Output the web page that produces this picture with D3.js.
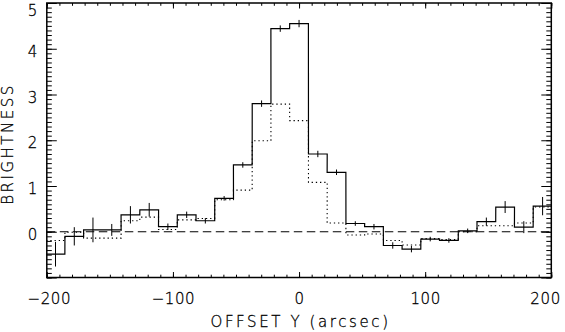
<!DOCTYPE html>
<html>
<head>
<meta charset="utf-8">
<script src="https://cdn.jsdelivr.net/npm/d3@7"></script>
<style>
  body { margin: 0; background: #fff; }
  text { font-family: "DejaVu Sans", sans-serif; font-weight: 200; fill: #000; stroke: #000; stroke-width: 0.3; }
</style>
</head>
<body>
<div class="container"></div>
<script>
////////////////////////////////////////////////////////////////
// DATA
////////////////////////////////////////////////////////////////
var binWidth = 14.85; // arcsec per bin
var offsets = [-193.1,-178.2,-163.4,-148.5,-133.7,-118.8,-104.0,-89.1,-74.3,-59.4,-44.6,-29.7,-14.9,
               0,14.9,29.7,44.6,59.4,74.3,89.1,104.0,118.8,133.7,148.5,163.4,178.2,193.1];
var brightness = [-0.49,-0.10,0.04,0.04,0.37,0.48,0.11,0.37,0.24,0.73,1.46,2.80,4.44,
                  4.55,1.70,1.30,0.18,0.11,-0.30,-0.38,-0.16,-0.19,0.02,0.22,0.54,0.10,0.56];
var errors = [0.27,0.20,0.27,0.13,0.19,0.15,0.07,0.07,0.06,0.05,0.06,0.07,0.07,
              0.08,0.07,0.06,0.05,0.06,0.07,0.07,0.05,0.05,0.05,0.09,0.13,0.13,0.20];
var model = [-0.19,-0.01,-0.14,-0.14,0.24,0.32,0.05,0.26,0.29,0.70,0.91,1.99,2.79,
             2.43,1.08,0.19,-0.07,-0.05,-0.19,-0.29,-0.15,-0.17,0.00,0.13,0.13,0.19,0.54];
var xTicks = [-200,-100,0,100,200];
var yTicks = [-1,0,1,2,3,4,5];
var yLabels = ["", "0", "1", "2", "3", "4", "5"];

////////////////////////////////////////////////////////////////
// STAGE
////////////////////////////////////////////////////////////////
var W = 565, H = 332;
var svg = d3.select(".container").append("svg").attr("width", W).attr("height", H);

var x = d3.scaleLinear().domain([-200, 200]).range([46.8, 551.3]);
var y = d3.scaleLinear().domain([-1, 5]).range([277.5, 3]);

svg.append("clipPath").attr("id", "clip")
   .append("rect")
   .attr("x", x(-200)).attr("y", y(5))
   .attr("width", x(200) - x(-200)).attr("height", y(-1) - y(5));

////////////////////////////////////////////////////////////////
// AXES (ticks inward on all four sides)
////////////////////////////////////////////////////////////////
var xMinor = d3.range(-200, 201, 10);
var yMinor = d3.range(-10, 51, 1).map(function(d) { return d / 10; });

function drawAxis(axis, tx, ty) {
  var g = svg.append("g").attr("transform", "translate(" + tx + "," + ty + ")").call(axis);
  g.select(".domain").remove();
  g.selectAll("line").attr("stroke", "#000").attr("stroke-width", 1);
  g.selectAll("text").attr("font-size", 15)
   .attr("font-family", "DejaVu Sans, sans-serif").attr("font-weight", 200);
  return g;
}

// bottom
var xg = drawAxis(d3.axisBottom(x).tickValues(xTicks).tickSize(-5.5).tickPadding(15.8)
  .tickFormat(function(d) { return d < 0 ? "\u2212" + Math.abs(d) : d; }), 0, y(-1));
xg.selectAll("text").attr("letter-spacing", 0.6)
  .attr("dx", function(d) { return d == -200 ? 2 : 0; })
  .filter(function(d) { return d == 200; })
  .attr("text-anchor", "end").attr("dx", 9);
drawAxis(d3.axisBottom(x).tickValues(xMinor).tickSize(-2.8).tickFormat(""), 0, y(-1));
// top
drawAxis(d3.axisTop(x).tickValues(xTicks).tickSize(-5.5).tickFormat(""), 0, y(5));
drawAxis(d3.axisTop(x).tickValues(xMinor).tickSize(-2.8).tickFormat(""), 0, y(5));
// left
var yg = drawAxis(d3.axisLeft(y).tickValues(yTicks).tickSize(-10).tickPadding(9.5)
  .tickFormat(function(d, i) { return yLabels[i]; }), x(-200), 0);
yg.selectAll("text").attr("dy", function(d) { return d == 5 ? "0.85em" : "0.5em"; });
drawAxis(d3.axisLeft(y).tickValues(yMinor).tickSize(-5).tickFormat(""), x(-200), 0);
// right
drawAxis(d3.axisRight(y).tickValues(yTicks).tickSize(-10).tickFormat(""), x(200), 0);
drawAxis(d3.axisRight(y).tickValues(yMinor).tickSize(-5).tickFormat(""), x(200), 0);

// frame
svg.append("rect")
   .attr("x", x(-200)).attr("y", y(5))
   .attr("width", x(200) - x(-200)).attr("height", y(-1) - y(5))
   .attr("fill", "none").attr("stroke", "#000").attr("stroke-width", 1.5);

// titles
svg.append("text")
   .attr("x", x(0) + 1.5).attr("y", 327.3)
   .attr("text-anchor", "middle").attr("font-size", 15).attr("letter-spacing", 2.6)
   .text("OFFSET Y (arcsec)");
svg.append("text")
   .attr("transform", "translate(13.3,144) rotate(-90)")
   .attr("text-anchor", "middle").attr("font-size", 15).attr("letter-spacing", 2.5)
   .text("BRIGHTNESS");

////////////////////////////////////////////////////////////////
// HISTOGRAMS
////////////////////////////////////////////////////////////////
function stepPoints(vals) {
  var pts = [];
  offsets.forEach(function(c, i) {
    pts.push([c - binWidth / 2, vals[i]]);
    pts.push([c + binWidth / 2, vals[i]]);
  });
  return pts;
}

var line = d3.line().x(function(d) { return x(d[0]); }).y(function(d) { return y(d[1]); });
var plot = svg.append("g").attr("clip-path", "url(#clip)");

// zero line
plot.append("path")
    .attr("d", line([[-200, 0], [200, 0]]))
    .attr("fill", "none").attr("stroke", "#000").attr("stroke-width", 1)
    .attr("stroke-dasharray", "8.5,4.5");

// model (dotted)
plot.append("path")
    .attr("d", line(stepPoints(model)))
    .attr("fill", "none").attr("stroke", "#000").attr("stroke-width", 1.1)
    .attr("stroke-dasharray", "1.3,2.9");

// measured (solid)
plot.append("path")
    .attr("d", line(stepPoints(brightness)))
    .attr("fill", "none").attr("stroke", "#000").attr("stroke-width", 1.2);

// error bars
plot.selectAll("line.err").data(offsets).enter().append("line")
    .attr("class", "err")
    .attr("x1", function(d) { return x(d); }).attr("x2", function(d) { return x(d); })
    .attr("y1", function(d, i) { return y(brightness[i] - errors[i]); })
    .attr("y2", function(d, i) { return y(brightness[i] + errors[i]); })
    .attr("stroke", "#000").attr("stroke-width", 1);
</script>
</body>
</html>
